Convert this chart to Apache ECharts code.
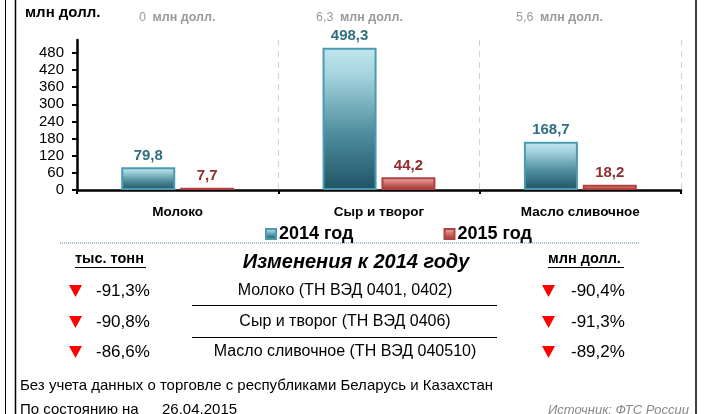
<!DOCTYPE html>
<html><head><meta charset="utf-8">
<script src="https://cdn.jsdelivr.net/npm/echarts@6/dist/echarts.min.js"></script>
<style>html,body{margin:0;padding:0;background:#fff}#c{width:707px;height:414px}</style>
</head><body><div id="c"></div>
<script>
const categories = ['Молоко', 'Сыр и творог', 'Масло сливочное'];
const values2014 = [79.8, 498.3, 168.7];
const values2015 = [7.7, 44.2, 18.2];
const seriesNames = ['2014 год', '2015 год'];
const yTicks = [0, 60, 120, 180, 240, 300, 360, 420, 480];
const topNotes = ['0', '6,3', '5,6'];
const tableRows = ['Молоко (ТН ВЭД 0401, 0402)', 'Сыр и творог (ТН ВЭД 0406)', 'Масло сливочное (ТН ВЭД 040510)'];
const changeTons = ['-91,3%', '-90,8%', '-86,6%'];
const changeUsd = ['-90,4%', '-91,3%', '-89,2%'];

const FONT = 'Liberation Sans, Arial, sans-serif';
const chart = echarts.init(document.getElementById('c'));

const g = [];
// frame
g.push({type:'line', shape:{x1:5.5,y1:0,x2:5.5,y2:414}, style:{stroke:'#000',lineWidth:1}});
g.push({type:'line', shape:{x1:15.5,y1:0,x2:15.5,y2:414}, style:{stroke:'#000',lineWidth:1.5}});
g.push({type:'line', shape:{x1:696,y1:0,x2:696,y2:414}, style:{stroke:'#000',lineWidth:1.5}});
g.push({type:'text', left:25, top:5, style:{text:'млн долл.', font:'bold 15px '+FONT, fill:'#000'}});
const noteX = [139, 316, 516];
topNotes.forEach((v,i)=>{
  g.push({type:'text', left:noteX[i], top:11, style:{
    text:'{n|'+v+'}  {u|млн долл.}',
    rich:{n:{font:'12.5px '+FONT, fill:'#9a9a9a'}, u:{font:'bold 12.5px '+FONT, fill:'#9a9a9a'}}
  }});
});
// dotted separator
g.push({type:'line', shape:{x1:60,y1:243,x2:640,y2:243}, style:{stroke:'#a9c6e6',lineWidth:2,lineDash:[1,1]}});
// table headers
g.push({type:'text', left:75, top:251, style:{text:'тыс. тонн', font:'bold 14.5px '+FONT, fill:'#000'}});
g.push({type:'line', shape:{x1:75,y1:267.5,x2:146,y2:267.5}, style:{stroke:'#000',lineWidth:1}});
g.push({type:'text', left:548, top:251, style:{text:'млн долл.', font:'bold 14.5px '+FONT, fill:'#000'}});
g.push({type:'line', shape:{x1:548,y1:267.5,x2:624,y2:267.5}, style:{stroke:'#000',lineWidth:1}});
g.push({type:'text', x:356, y:262, style:{text:'Изменения к 2014 году', font:'italic bold 20px '+FONT, fill:'#000', align:'center', verticalAlign:'middle'}});
const rowY = [291, 322, 352];
tableRows.forEach((t,i)=>{
  const y = rowY[i];
  g.push({type:'polygon', shape:{points:[[69,y-6],[82,y-6],[75.5,y+6]]}, style:{fill:'#f00'}});
  g.push({type:'text', x:96, y:y, style:{text:changeTons[i], font:'17px '+FONT, fill:'#000', verticalAlign:'middle'}});
  g.push({type:'text', x:345, y:y, style:{text:t, font:'16px '+FONT, fill:'#000', align:'center', verticalAlign:'middle'}});
  g.push({type:'polygon', shape:{points:[[542,y-6],[555,y-6],[548.5,y+6]]}, style:{fill:'#f00'}});
  g.push({type:'text', x:571, y:y, style:{text:changeUsd[i], font:'17px '+FONT, fill:'#000', verticalAlign:'middle'}});
});
g.push({type:'line', shape:{x1:192,y1:305.5,x2:497,y2:305.5}, style:{stroke:'#000',lineWidth:1}});
g.push({type:'line', shape:{x1:192,y1:337.5,x2:497,y2:337.5}, style:{stroke:'#000',lineWidth:1}});
g.push({type:'text', x:20, y:386, style:{text:'Без учета данных о торговле с республиками Беларусь и Казахстан', font:'15px '+FONT, fill:'#000', verticalAlign:'middle'}});
g.push({type:'text', x:20, y:410, style:{text:'По состоянию на', font:'15px '+FONT, fill:'#000', verticalAlign:'middle'}});
g.push({type:'text', x:162, y:410, style:{text:'26.04.2015', font:'15px '+FONT, fill:'#000', verticalAlign:'middle'}});
g.push({type:'text', x:689, y:410, style:{text:'Источник: ФТС России', font:'italic 13px '+FONT, fill:'#888', align:'right', verticalAlign:'middle'}});

const grad2014 = new echarts.graphic.LinearGradient(0,0,0,1,[
  {offset:0,color:'#c2e7ef'},{offset:0.2,color:'#a3d3de'},{offset:0.6,color:'#4f8d9d'},{offset:1,color:'#1e5465'}]);
const grad2015 = new echarts.graphic.LinearGradient(0,0,0,1,[
  {offset:0,color:'#f1b7b3'},{offset:0.45,color:'#cf716c'},{offset:1,color:'#9b2f2f'}]);

chart.setOption({
  animation:false,
  textStyle:{fontFamily:FONT},
  grid:{left:77, right:26, top:40, bottom:224},
  legend:{
    left:260, top:220, itemWidth:10, itemHeight:10, itemGap:90, icon:'rect',
    textStyle:{fontSize:18, fontWeight:'bold', color:'#000', fontFamily:FONT, padding:[0,0,0,-2]},
    data:seriesNames
  },
  xAxis:{
    type:'category', data:categories,
    axisLine:{lineStyle:{color:'#000', width:2.5}},
    axisTick:{show:true, length:4, lineStyle:{color:'#000', width:2}},
    axisLabel:{fontWeight:'bold', fontSize:13.5, color:'#000', margin:15, fontFamily:FONT},
    splitLine:{show:true, lineStyle:{color:'#d2d2d2', type:[6,5], width:1}}
  },
  yAxis:{
    type:'value', min:0, max:525,
    axisLine:{show:true, lineStyle:{color:'#000', width:2.5}},
    axisTick:{show:true, length:5, inside:false, customValues:yTicks, lineStyle:{color:'#000', width:2}},
    axisLabel:{fontSize:15, color:'#000', margin:13, customValues:yTicks, fontFamily:FONT},
    splitLine:{show:false}
  },
  series:[
    {name:seriesNames[0], type:'bar', data:values2014, barWidth:54, barGap:'9%',
     itemStyle:{color:grad2014, borderColor:'#4b9bb0', borderWidth:2},
     label:{show:true, position:'top', distance:4, fontWeight:'bold', fontSize:15, color:'#2f6e80', fontFamily:FONT,
       formatter:p=>String(p.value).replace('.',',')}},
    {name:seriesNames[1], type:'bar', data:values2015, barWidth:54,
     itemStyle:{color:grad2015, borderColor:'#b24040', borderWidth:2},
     label:{show:true, position:'top', distance:4, fontWeight:'bold', fontSize:15, color:'#8e2e2e', fontFamily:FONT,
       formatter:p=>String(p.value).replace('.',',')}}
  ],
  graphic:g
});
</script></body></html>
